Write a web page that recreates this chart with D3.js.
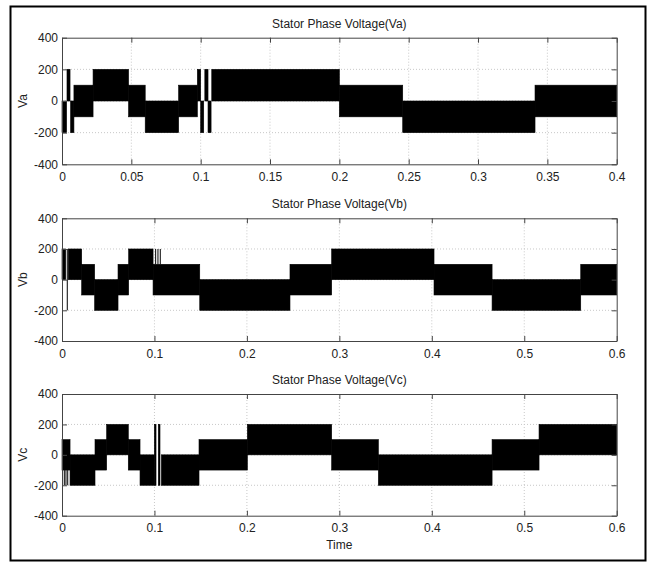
<!DOCTYPE html>
<html>
<head>
<meta charset="utf-8">
<script src="https://cdn.jsdelivr.net/npm/d3@7"></script>
<style>
  html, body { margin: 0; padding: 0; background: #fff; }
  svg { display: block; }
  text { font-family: Arial, "Liberation Sans", sans-serif; fill: #222; }
</style>
</head>
<body>
<div id="chart"></div>
<script>
// ---- data: [tStart, tEnd, low, high] bands of the switched voltage ----
const vaSegs = [
  [0, 0.0033, -200, 0], [0.0036, 0.0058, 0, 200], [0.0062, 0.0086, -200, 0],
  [0.0086, 0.0224, -100, 100], [0.0224, 0.048, 0, 200], [0.048, 0.060, -100, 100],
  [0.060, 0.0841, -200, 0], [0.0841, 0.0976, -100, 100],
  [0.0976, 0.1000, 0, 200], [0.1000, 0.1022, -200, 0], [0.1030, 0.1053, 0, 200],
  [0.1053, 0.1075, -200, 0], [0.1080, 0.2, 0, 200],
  [0.2, 0.2457, -100, 100], [0.2457, 0.3411, -200, 0], [0.3411, 0.4, -100, 100]
];
const vbSegs = [
  [0, 0.004, 0, 200], [0.0068, 0.0213, 0, 200], [0.0213, 0.0353, -100, 100],
  [0.0353, 0.0606, -200, 0], [0.0606, 0.0721, -100, 100], [0.0721, 0.0985, 0, 200],
  [0.0985, 0.149, -100, 100], [0.149, 0.2466, -200, 0], [0.2466, 0.2917, -100, 100],
  [0.2917, 0.4024, 0, 200], [0.4024, 0.4652, -100, 100], [0.4652, 0.5611, -200, 0],
  [0.5611, 0.6, -100, 100]
];
const vbSpikes = [[0.0057, -200, 200], [0.1013, 100, 200], [0.1038, 100, 200], [0.1063, 100, 200]];
const vcSegs = [
  [0, 0.0087, -100, 100], [0.0087, 0.0357, -200, 0], [0.0357, 0.0483, -100, 100],
  [0.0483, 0.0717, 0, 200], [0.0717, 0.0844, -100, 100], [0.0844, 0.0999, -200, 0],
  [0.0999, 0.1017, -200, 200], [0.1042, 0.1060, -200, 200], [0.1075, 0.1482, -200, 0],
  [0.1482, 0.2005, -100, 100], [0.2005, 0.2917, 0, 200], [0.2917, 0.3422, -100, 100],
  [0.3422, 0.4652, -200, 0], [0.4652, 0.516, -100, 100], [0.516, 0.6, 0, 200]
];
const vcSpikes = [[0.0025, -200, -100], [0.0043, -200, -100], [0.0062, -200, -100]];

const yTicks = [-400, -200, 0, 200, 400];
const xTicksA = [0, 0.05, 0.1, 0.15, 0.2, 0.25, 0.3, 0.35, 0.4];
const xTicksBC = [0, 0.1, 0.2, 0.3, 0.4, 0.5, 0.6];

const panels = [
  { title: 'Stator Phase Voltage(Va)', ylab: 'Va', segs: vaSegs, spikes: [], xmax: 0.4, xticks: xTicksA, top: 37.7, bottom: 164.3 },
  { title: 'Stator Phase Voltage(Vb)', ylab: 'Vb', segs: vbSegs, spikes: vbSpikes, xmax: 0.6, xticks: xTicksBC, top: 218.3, bottom: 341 },
  { title: 'Stator Phase Voltage(Vc)', ylab: 'Vc', segs: vcSegs, spikes: vcSpikes, xmax: 0.6, xticks: xTicksBC, top: 394, bottom: 515.7, xlab: 'Time' }
];

const W = 649, H = 562;
const left = 62, right = 616.7;
const svg = d3.select('#chart').append('svg').attr('width', W).attr('height', H);

// outer frame
svg.append('rect')
  .attr('x', 10.5).attr('y', 6.5).attr('width', 635).attr('height', 554)
  .attr('fill', 'none').attr('stroke', '#000').attr('stroke-width', 2);

const fmt = d => String(d);

panels.forEach(p => {
  const x = d3.scaleLinear().domain([0, p.xmax]).range([left, right]);
  const y = d3.scaleLinear().domain([-400, 400]).range([p.bottom, p.top]);
  const g = svg.append('g');

  // grid (dotted)
  g.append('g').selectAll('line.gx').data(p.xticks.slice(1, -1)).join('line')
    .attr('x1', d => x(d)).attr('x2', d => x(d)).attr('y1', p.top).attr('y2', p.bottom)
    .attr('stroke', '#c8c8c8').attr('stroke-width', 1).attr('stroke-dasharray', '1,2');
  g.append('g').selectAll('line.gy').data(yTicks.slice(1, -1)).join('line')
    .attr('x1', left).attr('x2', right).attr('y1', d => y(d)).attr('y2', d => y(d))
    .attr('stroke', '#c8c8c8').attr('stroke-width', 1).attr('stroke-dasharray', '1,2');

  // voltage bands (slight stroke mimics the line width of the traces)
  g.append('g').selectAll('rect').data(p.segs).join('rect')
    .attr('x', d => x(d[0]))
    .attr('width', d => Math.max(1, x(d[1]) - x(d[0])))
    .attr('y', d => y(d[3]))
    .attr('height', d => y(d[2]) - y(d[3]))
    .attr('fill', '#000').attr('stroke', '#000').attr('stroke-width', 0.6);
  g.append('g').selectAll('line').data(p.spikes).join('line')
    .attr('x1', d => x(d[0])).attr('x2', d => x(d[0]))
    .attr('y1', d => y(d[1])).attr('y2', d => y(d[2]))
    .attr('stroke', '#000').attr('stroke-width', 1);

  // axes box with inward ticks on all sides
  const axB = d3.axisBottom(x).tickValues(p.xticks).tickFormat(fmt).tickSizeInner(-5).tickSizeOuter(0).tickPadding(8);
  const axT = d3.axisTop(x).tickValues(p.xticks).tickFormat('').tickSizeInner(-5).tickSizeOuter(0);
  const axL = d3.axisLeft(y).tickValues(yTicks).tickFormat(fmt).tickSizeInner(-5).tickSizeOuter(0).tickPadding(4);
  const axR = d3.axisRight(y).tickValues(yTicks).tickFormat('').tickSizeInner(-5).tickSizeOuter(0);

  [[axB, `translate(0,${p.bottom})`], [axT, `translate(0,${p.top})`],
   [axL, `translate(${left},0)`], [axR, `translate(${right},0)`]].forEach(([ax, tr]) => {
    const a = g.append('g').attr('transform', tr).call(ax);
    a.selectAll('path, line').attr('stroke', '#444');
    a.selectAll('text').attr('font-size', 12).attr('fill', '#222')
      .attr('font-family', 'Arial, "Liberation Sans", sans-serif');
  });

  // title, y label
  g.append('text').attr('x', (left + right) / 2).attr('y', p.top - 10)
    .attr('text-anchor', 'middle').attr('font-size', 12).text(p.title);
  g.append('text')
    .attr('transform', `translate(27,${(p.top + p.bottom) / 2}) rotate(-90)`)
    .attr('text-anchor', 'middle').attr('font-size', 12).text(p.ylab);
  if (p.xlab) {
    g.append('text').attr('x', (left + right) / 2).attr('y', p.bottom + 33)
      .attr('text-anchor', 'middle').attr('font-size', 12).text(p.xlab);
  }
});
</script>
</body>
</html>
